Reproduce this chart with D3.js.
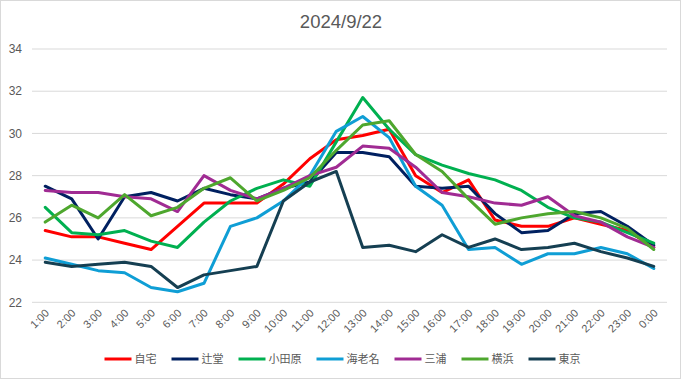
<!DOCTYPE html>
<html><head><meta charset="utf-8">
<script src="https://cdn.jsdelivr.net/npm/d3@7"></script>
<style>
html,body{margin:0;padding:0;background:#fff;}
svg{display:block;font-family:"Liberation Sans","Noto Sans CJK JP",Arial,sans-serif;}
</style></head>
<body><svg id="c" width="681" height="379"></svg>
<script>
const title = "2024/9/22";
const categories = ["1:00","2:00","3:00","4:00","5:00","6:00","7:00","8:00","9:00","10:00","11:00","12:00","13:00","14:00","15:00","16:00","17:00","18:00","19:00","20:00","21:00","22:00","23:00","0:00"];
const seriesNames = ["自宅","辻堂","小田原","海老名","三浦","横浜","東京"];
const jitaku   = [25.4,25.1,25.1,24.8,24.5,25.6,26.7,26.7,26.7,27.6,28.8,29.7,29.9,30.2,28.0,27.2,27.8,25.9,25.6,25.6,26.0,25.7,25.4,24.6];
const tsujido  = [27.5,26.9,25.0,27.0,27.2,26.8,27.4,27.1,26.9,27.4,27.7,29.1,29.1,28.9,27.5,27.4,27.5,26.2,25.3,25.4,26.2,26.3,25.6,24.7];
const odawara  = [26.5,25.3,25.2,25.4,24.9,24.6,25.8,26.8,27.4,27.8,27.5,29.6,31.7,30.2,29.0,28.5,28.1,27.8,27.3,26.5,26.0,25.8,25.3,24.8];
const ebina    = [24.1,23.8,23.5,23.4,22.7,22.5,22.9,25.6,26.0,26.8,28.0,30.1,30.8,29.8,27.5,26.6,24.5,24.6,23.8,24.3,24.3,24.6,24.3,23.6];
const miura    = [27.3,27.2,27.2,27.0,26.9,26.3,28.0,27.3,26.9,27.4,28.0,28.4,29.4,29.3,28.4,27.2,27.0,26.7,26.6,27.0,26.1,25.8,25.1,24.6];
const yokohama = [25.8,26.6,26.0,27.1,26.1,26.5,27.4,27.9,26.8,27.3,27.9,29.2,30.4,30.6,29.0,28.2,26.9,25.7,26.0,26.2,26.3,26.0,25.5,24.5];
const tokyo    = [23.9,23.7,23.8,23.9,23.7,22.7,23.3,23.5,23.7,26.8,27.7,28.2,24.6,24.7,24.4,25.2,24.6,25.0,24.5,24.6,24.8,24.4,24.1,23.7];
const yTicks = [22,24,26,28,30,32,34];
const colors = ["#FF0000","#002060","#00B050","#0F9ED5","#A02B93","#4EA72E","#153F52"];
const seriesValues = [jitaku,tsujido,odawara,ebina,miura,yokohama,tokyo];

const svg = d3.select("#c");
svg.append("rect").attr("x",0.5).attr("y",0.5).attr("width",680).attr("height",378)
  .attr("fill","#fff").attr("stroke","#d9d9d9");

const x = d3.scaleBand().domain(categories).range([32,667]).padding(0);
const y = d3.scaleLinear().domain([22,34]).range([302.3,49]);
const cx = c => x(c) + x.bandwidth()/2;

// gridlines
svg.append("g").selectAll("line").data(yTicks).join("line")
  .attr("x1",32).attr("x2",667).attr("y1",d=>y(d)).attr("y2",d=>y(d))
  .attr("stroke","#d9d9d9").attr("stroke-width",1);

// y labels
svg.append("g").selectAll("text").data(yTicks).join("text")
  .attr("x",22).attr("y",d=>y(d)).attr("dy","0.35em").attr("text-anchor","end")
  .attr("font-size",12).attr("fill","#595959").text(d=>d);

// x labels
svg.append("g").selectAll("text").data(categories).join("text")
  .attr("transform",d=>`translate(${cx(d)+2},${311}) rotate(-45)`)
  .attr("text-anchor","end").attr("dy","0.35em")
  .attr("font-size",11).attr("fill","#595959").text(d=>d);

// lines
const line = d3.line().x((d,i)=>cx(categories[i])).y(d=>y(d));
svg.append("g").selectAll("path").data(seriesValues).join("path")
  .attr("d",d=>line(d)).attr("fill","none")
  .attr("stroke",(d,i)=>colors[i]).attr("stroke-width",3)
  .attr("stroke-linejoin","round").attr("stroke-linecap","round");

// title
svg.append("text").attr("x",341).attr("y",28).attr("text-anchor","middle")
  .attr("font-size",18.5).attr("fill","#595959").text(title);

// legend
const lg = svg.append("g");
let lx = 0;
const items = [];
seriesNames.forEach((n,i)=>{
  const g = lg.append("g");
  g.append("line").attr("x1",0).attr("x2",27).attr("y1",0).attr("y2",0)
    .attr("stroke",colors[i]).attr("stroke-width",3);
  const t = g.append("text").attr("x",30).attr("y",0).attr("dy","0.35em")
    .attr("font-size",11).attr("fill","#595959").text(n);
  const w = 30 + t.node().getComputedTextLength();
  g.attr("transform",`translate(${lx},0)`);
  lx += w + 15;
});
const total = lx - 15;
lg.attr("transform",`translate(${342.5 - total/2},359)`);
</script></body></html>
